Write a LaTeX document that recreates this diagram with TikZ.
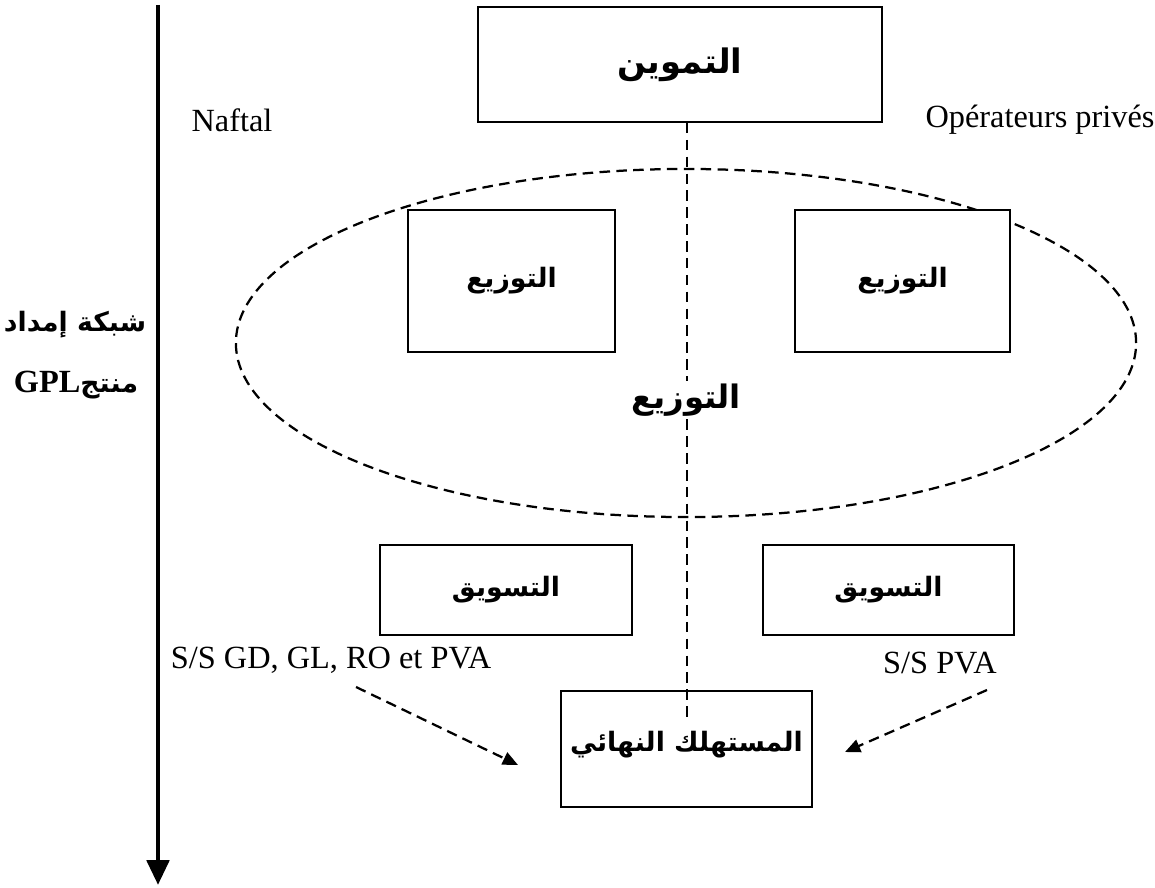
\documentclass[tikz,border=0pt]{standalone}
\usepackage{fontspec}
\setmainfont{Liberation Serif}
\newfontfamily\arabicfont[Script=Arabic]{DejaVu Sans}
\TeXXeTstate=1
\usetikzlibrary{arrows.meta,shapes.geometric}
\tikzset{
  box/.style={draw, line width=1.3pt, inner sep=0pt},
  dline/.style={draw, line width=1.6pt, dash pattern=on 7.5pt off 4.5pt},
  arlabel/.style={font=\arabicfont\bfseries\fontsize{19}{22}\selectfont},
  latin/.style={font=\fontsize{23}{26}\selectfont, inner sep=0pt},
  tip/.style={-{Triangle[length=0.38cm,width=0.33cm]}},
}
\newcommand{\ar}[1]{\beginR #1\endR}
\begin{document}
\begin{tikzpicture}[x=0.025cm, y=-0.025cm]
  \useasboundingbox (0,0) rectangle (1155,887);

  % vertical axis of the supply network
  \coordinate (axtop) at (158,5);
  \coordinate (axbot) at (158,885);
  \draw[line width=3.5pt, -{Triangle[length=0.62cm,width=0.55cm]}] (axtop) -- (axbot);
  \node[arlabel] (net1) at (75,325) {\ar{شبكة إمداد}};
  \node[arlabel] (net2) at (76,385)
    {\ar{منتج\beginL{\fontspec{Liberation Serif}\bfseries\fontsize{23}{26}\selectfont GPL}\endL}};

  % supply
  \node[box, minimum width=10.1cm, minimum height=2.875cm,
        font=\arabicfont\bfseries\fontsize{24}{28}\selectfont] (supply) at (680,64.5) {\ar{التموين}};

  % distribution area
  \node[ellipse, dline, minimum width=22.5cm, minimum height=8.7cm, inner sep=0pt] (area) at (686,343) {};

  % central dashed link, broken around the middle label
  \node[font=\arabicfont\bfseries\fontsize{23}{26}\selectfont, inner sep=2pt] (distC) at (686,400) {\ar{التوزيع}};
  \coordinate (vend) at (687,722);
  \draw[dline] (supply.south -| vend) -- (distC.north -| vend);
  \draw[dline] (distC.south -| vend) -- (vend);

  \node[box, arlabel, fill=white, minimum width=5.175cm, minimum height=3.55cm] (distL) at (511.5,281) {\ar{التوزيع}};
  \node[box, arlabel, fill=white, minimum width=5.375cm, minimum height=3.55cm] (distR) at (902.5,281) {\ar{التوزيع}};

  \node[latin] (naftal) at (232,120) {Naftal};
  \node[latin] (priv) at (1040,120) {Opérateurs privés};

  % marketing
  \node[box, arlabel, minimum width=6.3cm, minimum height=2.25cm] (mktL) at (506,590) {\ar{التسويق}};
  \node[box, arlabel, minimum width=6.275cm, minimum height=2.25cm] (mktR) at (888.5,590) {\ar{التسويق}};
  \node[latin] (ssL) at (331,660) {S/S GD, GL, RO et PVA};
  \node[latin] (ssR) at (940,663) {S/S PVA};

  % final consumer
  \node[box, minimum width=6.275cm, minimum height=2.9cm] (cons) at (686.5,749) {};
  \node[arlabel] (consT) at (686.5,745) {\ar{المستهلك النهائي}};

  % dashed arrows toward the consumer
  \coordinate (aL0) at (356,687);
  \coordinate (aL1) at (518,765);
  \coordinate (aR0) at (987,690);
  \coordinate (aR1) at (845,752);
  \draw[dline, tip] (aL0) -- (aL1);
  \draw[dline, tip] (aR0) -- (aR1);
\end{tikzpicture}
\end{document}
